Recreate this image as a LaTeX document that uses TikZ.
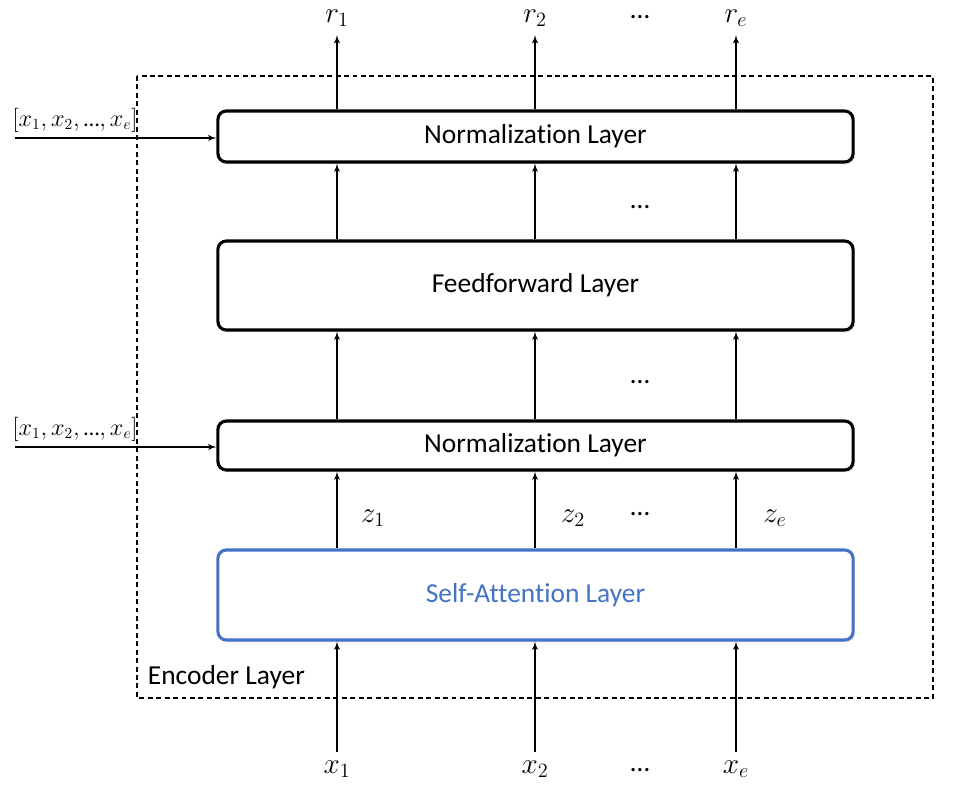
\documentclass[tikz,border=0pt]{standalone}
\usepackage{fontspec}
\setmainfont{Carlito}[Ligatures=NoCommon]
\usepackage{amsmath}
\usetikzlibrary{arrows,shadows,positioning,calc}
\definecolor{attnblue}{HTML}{4472C4}

\begin{document}
\begin{tikzpicture}
[x=0.025cm,y=-0.025cm,
layer/.style={draw=black,line width=2.2pt,rounded corners=6pt,fill=white,
  minimum width=15.875cm,font=\fontsize{19.5}{22}\selectfont,
  drop shadow={opacity=.2,shadow xshift=1.5pt,shadow yshift=-1.5pt}},
flow/.style={line width=1pt,->,>=latex'},
lbl/.style={font=\fontsize{19.5}{22}\selectfont,inner xsep=1pt,inner ysep=6pt},
outl/.style={font=\fontsize{19.5}{22}\selectfont,inner xsep=1pt,inner ysep=1pt},
dots/.style={font=\fontsize{19.5}{22}\selectfont,inner sep=1pt},
seq/.style={font=\fontsize{16}{18}\selectfont,inner sep=2pt},
enc/.style={line width=1pt,dash pattern=on 3.5pt off 2.5pt}]
\useasboundingbox (0,0) rectangle (960,791);
%%
% encoder frame
%%
\draw[enc] (137,76) rectangle (933,698);
\node[anchor=west,font=\fontsize{19.5}{22}\selectfont] (encl) at (143,677) {Encoder Layer};
%%
% layers
%%
\node[layer,minimum height=1.275cm] (nt) at (535.5,136.5) {Normalization Layer};
\node[layer,minimum height=2.225cm] (ff) at (535.5,285.5) {Feedforward Layer};
\node[layer,minimum height=1.225cm] (nb) at (535.5,445.5) {Normalization Layer};
\node[layer,draw=attnblue,text=attnblue,minimum height=2.25cm] (sa) at (535.5,595) {Self-Attention Layer};
%%
% inputs and outputs
%%
\node[lbl] (x1) at (337,769) {$x_1$};
\node[lbl] (x2) at (535,769) {$x_2$};
\node[lbl] (xe) at (736,769) {$x_e$};
\node[dots] (xd) at (640,770) {…};
\node[outl] (r1) at (337,18) {$r_1$};
\node[outl] (r2) at (535,18) {$r_2$};
\node[outl] (re) at (736,18) {$r_e$};
\node[dots] (rd) at (640,17) {…};
\node[lbl] (z1) at (373,518) {$z_1$};
\node[lbl] (z2) at (573,518) {$z_2$};
\node[lbl] (ze) at (775,518) {$z_e$};
\node[dots] (zd) at (640,514) {…};
\node[dots] (d1) at (640,382) {…};
\node[dots] (d2) at (640,207) {…};
%%
% vertical flow
%%
\foreach \c/\r in {x1/r1,x2/r2,xe/re}{
  \draw[flow] (\c.north) -- (sa.south -| \c);
  \draw[flow] (sa.north -| \c) -- (nb.south -| \c);
  \draw[flow] (nb.north -| \c) -- (ff.south -| \c);
  \draw[flow] (ff.north -| \c) -- (nt.south -| \c);
  \draw[flow,shorten >=5pt] (nt.north -| \c) -- (\r.south);
}
%%
% residual inputs
%%
\coordinate (s1) at (15,138);
\coordinate (s2) at (15,447);
\node[seq] (in1) at (75,120) {$[x_1, x_2, \text{…}, x_e]$};
\node[seq] (in2) at (75,429) {$[x_1, x_2, \text{…}, x_e]$};
\draw[flow] (s1) -- (s1 -| nt.west);
\draw[flow] (s2) -- (s2 -| nb.west);
\end{tikzpicture}
\end{document}
